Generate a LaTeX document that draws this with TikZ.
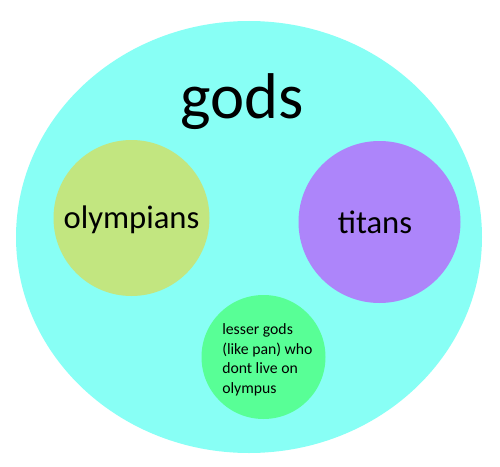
\documentclass[tikz,border=0pt]{standalone}
\usepackage{fontspec}
\setmainfont{Carlito}
\usepackage{xcolor}

\definecolor{godscyan}{RGB}{136,255,245}
\definecolor{olympgreen}{RGB}{194,230,128}
\definecolor{titanpurple}{RGB}{173,133,250}
\definecolor{lessergreen}{RGB}{88,255,150}

\begin{document}
\begin{tikzpicture}[x=0.75pt, y=-0.75pt]
		\def\rx{233};
		\def\ry{216};
		
		\useasboundingbox (0,0) rectangle (500,467);
		
		\coordinate (gods centre) at (249,237);
		\fill [godscyan] (gods centre) ellipse [x radius = \rx, y radius = \ry];
		\node (gods label) [anchor=base, font=\fontsize{48.5}{58}\selectfont] at (242,118) {gods};
		
		%groups
		\fill [olympgreen] (131.5,218) circle [radius = 78];
		\fill [titanpurple] (379.5,222) circle [radius = 81];
		\fill [lessergreen] (263.5,357) circle [radius = 62];
		
		\node (olympians) [anchor=base, font=\fontsize{24.5}{29}\selectfont] at (131.5,228) {olympians};
		\node (titans) [anchor=base, font=\fontsize{24.5}{29}\selectfont] at (375,233) {titans};
		\node (lesser) [anchor=base west, inner sep=0pt, align=left, font=\fontsize{11.8}{14.6}\selectfont] at (222,393) {lesser gods\\(like pan) who\\dont live on\\olympus};
	\end{tikzpicture}
\end{document}
